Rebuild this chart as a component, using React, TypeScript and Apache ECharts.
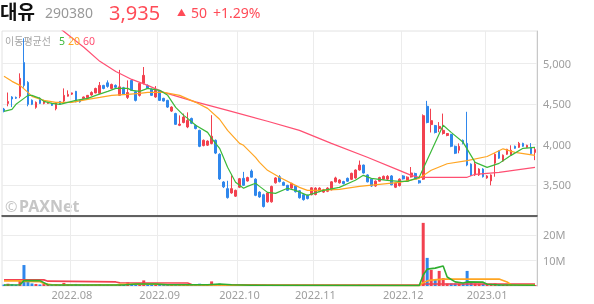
import React, { useEffect, useRef } from "react";
import * as echarts from "echarts";

const dates: string[] = [
  "2022.07.07","2022.07.08","2022.07.11","2022.07.12","2022.07.13","2022.07.14","2022.07.15","2022.07.18","2022.07.19","2022.07.20","2022.07.21","2022.07.22","2022.07.25","2022.07.26","2022.07.27","2022.07.28","2022.07.29",
  "2022.08.01","2022.08.02","2022.08.03","2022.08.04","2022.08.05","2022.08.08","2022.08.09","2022.08.10","2022.08.11","2022.08.12","2022.08.16","2022.08.17","2022.08.18","2022.08.19","2022.08.22","2022.08.23","2022.08.24","2022.08.25","2022.08.26","2022.08.29","2022.08.30","2022.08.31",
  "2022.09.01","2022.09.02","2022.09.05","2022.09.06","2022.09.07","2022.09.08","2022.09.13","2022.09.14","2022.09.15","2022.09.16","2022.09.19","2022.09.20","2022.09.21","2022.09.22","2022.09.23","2022.09.26","2022.09.27","2022.09.28","2022.09.29","2022.09.30",
  "2022.10.04","2022.10.05","2022.10.06","2022.10.07","2022.10.11","2022.10.12","2022.10.13","2022.10.14","2022.10.17","2022.10.18","2022.10.19","2022.10.20","2022.10.21","2022.10.24","2022.10.25","2022.10.26","2022.10.27","2022.10.28","2022.10.31",
  "2022.11.01","2022.11.02","2022.11.03","2022.11.04","2022.11.07","2022.11.08","2022.11.09","2022.11.10","2022.11.11","2022.11.14","2022.11.15","2022.11.16","2022.11.17","2022.11.18","2022.11.21","2022.11.22","2022.11.23","2022.11.24","2022.11.25","2022.11.28","2022.11.29","2022.11.30",
  "2022.12.01","2022.12.02","2022.12.05","2022.12.06","2022.12.07","2022.12.08","2022.12.09","2022.12.12","2022.12.13","2022.12.14","2022.12.15","2022.12.16","2022.12.19","2022.12.20","2022.12.21","2022.12.22","2022.12.23","2022.12.26","2022.12.27","2022.12.28","2022.12.29",
  "2023.01.02","2023.01.03","2023.01.04","2023.01.05","2023.01.06","2023.01.09","2023.01.10","2023.01.11","2023.01.12","2023.01.13","2023.01.16","2023.01.17","2023.01.18",
];

// [open, close, low, high]
const ohlc: number[][] = [
  [4436,4410,4395,4450],[4505,4530,4470,4640],[4585,4560,4460,4595],[4580,4570,4560,4590],[4593,4815,4570,4877],
  [5010,4728,4700,5310],[4765,4494,4470,4780],[4545,4494,4485,4555],[4457,4519,4440,4530],[4568,4506,4500,4580],
  [4506,4543,4495,4550],[4506,4519,4500,4525],[4506,4481,4475,4510],[4440,4510,4420,4520],[4530,4500,4490,4535],
  [4535,4605,4520,4691],[4595,4617,4590,4667],[4620,4635,4610,4640],[4655,4525,4520,4660],[4545,4525,4515,4550],
  [4565,4585,4560,4590],[4575,4605,4570,4610],[4610,4640,4600,4655],[4635,4690,4630,4700],[4630,4728,4620,4770],
  [4728,4690,4680,4735],[4760,4716,4700,4790],[4690,4740,4680,4750],[4728,4705,4700,4740],[4605,4710,4600,4920],
  [4700,4620,4610,4710],[4580,4640,4560,4790],[4790,4667,4660,4800],[4650,4543,4530,4660],[4605,4753,4590,4760],
  [4753,4852,4740,4955],[4728,4691,4685,4740],[4680,4605,4600,4690],[4585,4667,4575,4720],[4660,4543,4535,4670],
  [4568,4535,4530,4575],[4543,4460,4450,4550],[4411,4460,4400,4470],[4380,4247,4240,4390],[4235,4250,4225,4358],
  [4270,4337,4260,4380],[4215,4296,4200,4395],[4320,4260,4250,4330],[4235,4195,4185,4245],[4173,3975,3965,4180],
  [3985,4050,3975,4060],[3990,4040,3980,4050],[4010,4100,4000,4360],[4050,3892,3880,4060],[3877,3573,3560,3890],
  [3535,3475,3460,3545],[3453,3342,3330,3550],[3400,3453,3390,3617],[3360,3432,3350,3440],[3470,3576,3460,3585],
  [3580,3494,3485,3660],[3547,3590,3540,3600],[3670,3595,3590,3690],[3570,3370,3360,3580],[3410,3350,3340,3420],
  [3378,3232,3220,3390],[3290,3400,3280,3410],[3290,3480,3280,3490],[3525,3585,3515,3595],[3600,3540,3530,3620],
  [3530,3494,3485,3540],[3494,3432,3425,3500],[3460,3518,3450,3525],[3488,3415,3405,3495],[3427,3340,3330,3435],
  [3378,3317,3305,3385],[3370,3330,3320,3380],[3378,3463,3370,3470],[3380,3460,3370,3470],[3420,3460,3410,3470],
  [3410,3440,3400,3450],[3420,3460,3410,3470],[3440,3537,3430,3545],[3537,3585,3530,3600],[3525,3560,3515,3570],
  [3540,3515,3505,3550],[3580,3545,3535,3590],[3568,3642,3560,3650],[3585,3683,3575,3690],[3683,3744,3675,3800],
  [3744,3646,3640,3750],[3622,3537,3530,3630],[3570,3485,3475,3580],[3485,3545,3475,3555],[3545,3590,3540,3600],
  [3570,3605,3560,3615],[3570,3605,3560,3620],[3610,3500,3495,3620],[3470,3520,3460,3530],[3490,3570,3480,3580],
  [3610,3573,3565,3620],[3545,3595,3535,3605],[3597,3646,3590,3720],[3640,3570,3560,3650],[3550,3525,3515,3560],
  [3570,4354,3560,4370],[4470,4270,4260,4537],[4244,4293,4146,4440],[4232,4146,4135,4240],[4195,4222,4150,4275],
  [4134,4173,4120,4380],[4110,4134,4100,4140],[4122,3976,3965,4130],[3976,3890,3880,3985],[3927,3976,3890,4012],
  [4049,4012,4000,4060],[4012,3744,3730,4402],[3756,3622,3610,3765],[3622,3756,3610,3790],[3622,3695,3610,3705],
  [3695,3600,3590,3705],[3585,3610,3575,3620],[3549,3622,3494,3630],[3768,3878,3600,3890],[3915,3829,3820,3925],
  [3793,3866,3785,3875],[3878,3939,3870,3945],[3866,3927,3860,3988],[3976,3951,3945,3985],[3963,4012,3955,4030],
  [4012,3976,3970,4020],[3963,3988,3955,3995],[3963,3885,3875,4015],[3900,3935,3805,3960],
];

// volume in millions of shares
const volumes: number[] = [
  0.6,0.9,0.7,0.5,2.0,8.2,1.6,1.0,0.8,0.6,0.9,0.5,0.4,0.7,0.4,1.2,0.6,0.5,0.8,0.5,
  0.4,0.4,0.4,0.5,0.7,0.4,0.5,0.4,0.3,0.8,0.5,1.4,0.8,0.7,0.9,2.2,0.9,0.8,0.7,0.8,
  0.5,0.6,0.4,0.7,0.5,0.5,0.6,0.4,0.4,0.9,0.5,0.4,1.8,0.8,0.9,0.7,0.6,0.5,0.4,0.5,
  0.5,0.3,0.4,0.5,0.3,0.5,0.4,0.5,0.4,0.3,0.3,0.3,0.3,0.3,0.3,0.3,0.3,0.3,0.3,0.2,
  0.2,0.2,0.4,0.4,0.3,0.2,0.2,0.3,0.4,0.5,0.4,0.3,0.3,0.3,0.2,0.2,0.2,0.3,0.2,0.3,
  0.2,0.2,0.3,0.2,0.2,24.7,11.0,6.3,2.4,5.9,3.1,1.0,1.0,1.0,0.9,0.9,5.9,1.2,1.0,0.9,
  0.9,0.6,0.7,1.0,0.6,0.4,0.4,0.4,0.3,0.4,0.3,0.3,0.4,0.4,
];

// moving-average lines: [day index, value]
const ma5: number[][] = [
  [0,4407],[2,4432],[3,4494],[5,4568],[6,4605],[7,4605],[9,4568],[10,4531],[12,4506],[14,4494],[16,4519],[18,4543],
  [21,4568],[23,4605],[26,4654],[28,4691],[31,4691],[32,4667],[34,4654],[36,4691],[39,4667],[41,4605],[43,4457],
  [45,4358],[46,4321],[48,4235],[51,4148],[52,4074],[54,3951],[56,3716],[58,3531],[60,3457],[61,3481],[63,3519],
  [64,3481],[66,3407],[68,3395],[71,3457],[73,3432],[76,3370],[80,3432],[84,3469],[88,3556],[90,3617],[92,3580],
  [96,3556],[99,3543],[101,3543],[104,3593],[110,4235],[112,4148],[115,4025],[118,3778],[121,3716],[124,3765],
  [127,3864],[130,3951],[133,3963],
];
const ma20: number[][] = [
  [0,4840],[2,4778],[4,4728],[6,4642],[7,4593],[10,4543],[13,4519],[17,4519],[21,4556],[24,4580],[27,4605],
  [31,4617],[34,4630],[36,4642],[40,4642],[44,4605],[48,4519],[51,4444],[54,4310],[56,4173],[59,4012],[60,3988],
  [63,3840],[64,3778],[66,3679],[69,3593],[74,3469],[76,3432],[79,3432],[84,3444],[89,3481],[94,3506],[99,3531],
  [104,3580],[107,3680],[111,3760],[116,3800],[121,3850],[125,3945],[128,3901],[133,3864],
];
const ma60: number[][] = [
  [0,5900],[8,5650],[15,5395],[20,5200],[24,5025],[28,4900],[32,4802],[36,4728],[40,4642],[48,4525],[56,4420],
  [66,4285],[74,4173],[82,4012],[91,3840],[99,3679],[102,3617],[104,3593],[116,3593],[118,3630],[124,3654],[133,3716],
];
const volMa5: number[][] = [
  [0,0.4],[4,0.5],[5,2.1],[9,2.1],[11,0.5],[14,0.4],[30,0.4],[33,0.8],[38,0.8],[41,0.5],[51,0.5],[54,0.8],[57,0.5],
  [62,0.3],[104,0.2],[105,4.3],[106,6.6],[108,7.0],[110,7.8],[111,3.5],[113,1.6],[115,1.2],[116,1.6],[120,1.5],
  [121,0.7],[124,0.4],[133,0.3],
];
const volMa20: number[][] = [
  [0,2.0],[4,2.0],[5,1.8],[9,1.7],[10,1.0],[12,0.5],[28,0.4],[29,0.7],[38,0.7],[41,0.5],[46,0.4],[66,0.3],[104,0.2],
  [105,1.3],[106,2.0],[107,2.3],[110,2.7],[124,2.7],[126,1.6],[127,0.5],[133,0.4],
];
const volMa60: number[][] = [
  [0,2.4],[10,2.4],[11,1.9],[28,1.6],[29,1.3],[46,1.2],[47,0.6],[66,0.4],[104,0.4],[105,0.8],[133,0.8],
];

const priceTicks = [3500, 4000, 4500, 5000];
const volumeTicks = [10, 20];

const UP = "#f2414f";
const DOWN = "#2f87ec";
const GREEN = "#3cb93a";
const ORANGE = "#ffa522";
const PINK = "#ff4f72";
const FONT = '"Noto Sans", "Noto Sans CJK KR", sans-serif';

export default function App() {
  const ref = useRef<HTMLDivElement>(null);
  useEffect(() => {
    if (!ref.current) return;
    const chart = echarts.init(ref.current, null, { renderer: "svg" });
    const monthStarts = new Set<number>();
    dates.forEach((d, i) => {
      if (i > 0 && d.slice(5, 7) !== dates[i - 1].slice(5, 7)) monthStarts.add(i);
    });
    const isMonth = (i: number) => monthStarts.has(i);
    const grid = { color: "#ececec", width: 1 };
    const labelColor = "#9e9e9e";

    const maLine = (data: number[][], color: string, x: number, width: number) => ({
      type: "line",
      xAxisIndex: x,
      yAxisIndex: x,
      data,
      symbol: "none",
      silent: true,
      lineStyle: { color, width },
      z: 3,
    });

    const txt = (x: number, y: number, text: string, fontSize: number, fill: string, extra: any = {}) => ({
      type: "text",
      x,
      y,
      z: 10,
      silent: true,
      style: { text, fontSize, fill, fontFamily: FONT, verticalAlign: "middle", ...extra },
    });

    const option: any = {
      animation: false,
      textStyle: { fontFamily: FONT },
      grid: [
        { left: 2, right: 57, top: 31, height: 185, show: true, borderColor: "#e2e2e2", borderWidth: 1 },
        { left: 2, right: 57, top: 217, height: 69, show: true, borderColor: "#e2e2e2", borderWidth: 1 },
      ],
      xAxis: [
        {
          type: "category",
          gridIndex: 0,
          data: dates,
          axisLine: { show: true, lineStyle: { color: "#333", width: 1.5 } },
          axisTick: { show: false },
          axisLabel: { show: false },
          splitLine: { show: true, interval: (i: number) => isMonth(i), lineStyle: grid },
        },
        {
          type: "category",
          gridIndex: 1,
          data: dates,
          axisLine: { show: false },
          axisTick: { show: false },
          axisLabel: {
            show: true,
            interval: (i: number) => isMonth(i),
            formatter: (v: string) => v.slice(0, 7),
            color: labelColor,
            fontSize: 11,
            margin: 3,
            fontFamily: FONT,
          },
          splitLine: { show: true, interval: (i: number) => isMonth(i), lineStyle: grid },
        },
      ],
      yAxis: [
        {
          type: "value",
          gridIndex: 0,
          position: "right",
          min: 3115,
          max: 5400,
          axisLine: { show: true, lineStyle: { color: "#c8c8c8" } },
          axisTick: { show: false, customValues: priceTicks },
          axisLabel: {
            customValues: priceTicks,
            color: labelColor,
            fontSize: 11,
            margin: 6,
            fontFamily: FONT,
            formatter: (v: number) => v.toLocaleString("en-US"),
          },
          splitLine: { show: true, lineStyle: grid },
        },
        {
          type: "value",
          gridIndex: 1,
          position: "right",
          min: 0,
          max: 27,
          axisLine: { show: true, lineStyle: { color: "#c8c8c8" } },
          axisTick: { show: false, customValues: volumeTicks },
          axisLabel: {
            customValues: volumeTicks,
            color: labelColor,
            fontSize: 11,
            margin: 6,
            fontFamily: FONT,
            formatter: (v: number) => v + "M",
          },
          splitLine: { show: true, lineStyle: grid },
        },
      ],
      series: [
        {
          type: "candlestick",
          xAxisIndex: 0,
          yAxisIndex: 0,
          data: ohlc,
          barWidth: 2.2,
          itemStyle: { color: UP, color0: DOWN, borderColor: UP, borderColor0: DOWN, borderWidth: 1 },
          silent: true,
        },
        maLine(ma60, PINK, 0, 1.2),
        maLine(ma20, ORANGE, 0, 1.2),
        maLine(ma5, GREEN, 0, 1.2),
        {
          type: "bar",
          xAxisIndex: 1,
          yAxisIndex: 1,
          data: volumes,
          barWidth: 3,
          silent: true,
          itemStyle: {
            color: (p: any) => (ohlc[p.dataIndex][1] >= ohlc[p.dataIndex][0] ? UP : DOWN),
          },
        },
        maLine(volMa60, UP, 1, 1.6),
        maLine(volMa20, ORANGE, 1, 1.6),
        maLine(volMa5, "#2fae2f", 1, 1.6),
      ],
      graphic: [
        txt(0, 12, "대유", 19, "#111", { fontWeight: "bold" }),
        txt(45, 12.5, "290380", 14, "#999"),
        txt(109, 12, "3,935", 20, "#ff4b57"),
        txt(177, 12.5, "▲", 9, "#ff4b57"),
        txt(191, 12.5, "50", 14, "#ff4b57"),
        txt(213, 12.5, "+1.29%", 14, "#ff4b57"),
        txt(5, 41, "이동평균선", 10, "#a5a5a5"),
        txt(59, 41, "5", 10.5, GREEN),
        txt(68, 41, "20", 10.5, ORANGE),
        txt(83, 41, "60", 10.5, PINK),
        { type: "text", x: 5, y: 206, z: -1, silent: true, style: { text: "©", fontSize: 15, fill: "#c6c6c6", fontFamily: FONT, verticalAlign: "middle" } },
        { type: "text", x: 19, y: 206, z: -1, silent: true, style: { text: "PAXNet", fontSize: 16, fontWeight: "bold", fill: "#c6c6c6", fontFamily: FONT, verticalAlign: "middle" } },
      ],
    };
    chart.setOption(option);
    return () => chart.dispose();
  }, []);
  return <div ref={ref} style={{ position: "fixed", left: 0, top: 0, width: 594, height: 304 }} />;
}
